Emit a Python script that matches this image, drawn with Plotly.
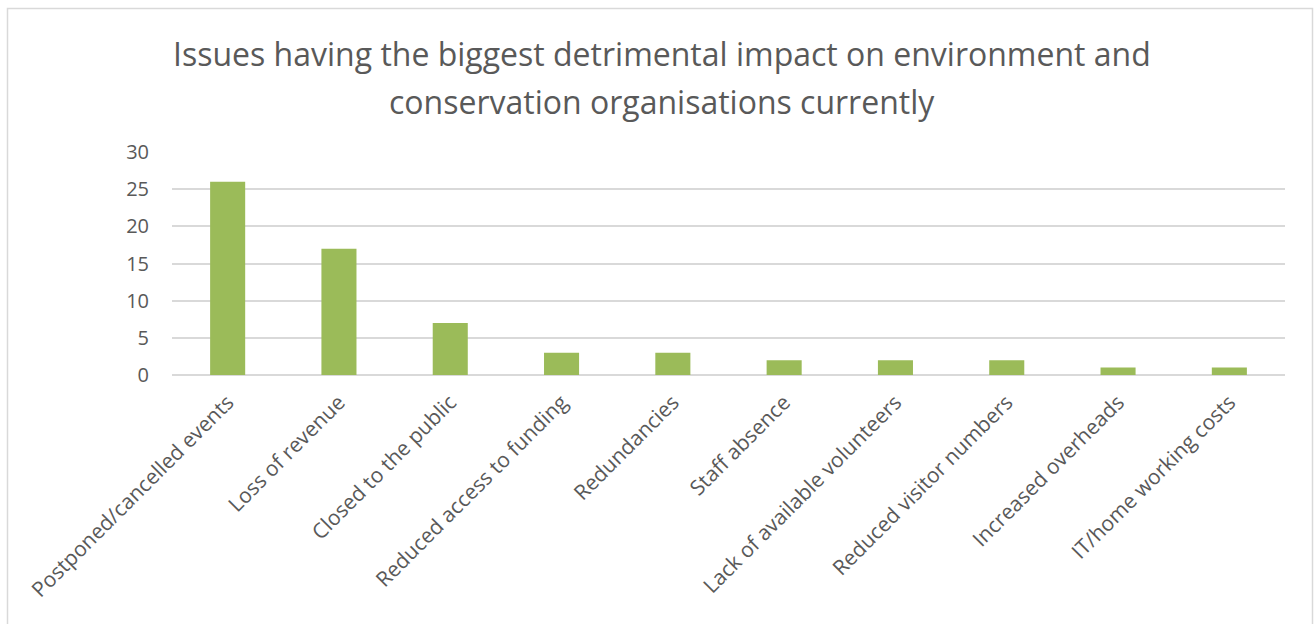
import plotly.graph_objects as go

# Survey responses: issues with the biggest detrimental impact
issues = [
    "Postponed/cancelled events",
    "Loss of revenue",
    "Closed to the public",
    "Reduced access to funding",
    "Redundancies",
    "Staff absence",
    "Lack of available volunteers",
    "Reduced visitor numbers",
    "Increased overheads",
    "IT/home working costs",
]
counts = [26, 17, 7, 3, 3, 2, 2, 2, 1, 1]
y_ticks = [0, 5, 10, 15, 20, 25, 30]
title_lines = [
    "Issues having the biggest detrimental impact on environment and",
    "conservation organisations currently",
]

TEXT_GREY = "#595959"
GRID_GREY = "#d9d9d9"
FONT = "Open Sans"

fig = go.Figure(
    go.Bar(
        x=issues,
        y=counts,
        marker=dict(color="#9bbb59", line=dict(width=0)),
        width=0.315,
    )
)

W, H = 1315, 624
L, R, T, B = 172, 30, 152, 249
pw, ph = W - L - R, H - T - B


def px_x(p):
    return (p - L) / pw


def px_y(p):
    return (H - B - p) / ph


fig.update_layout(
    width=W,
    height=H,
    margin=dict(l=L, r=R, t=T, b=B, autoexpand=False),
    paper_bgcolor="white",
    plot_bgcolor="white",
    showlegend=False,
    font=dict(family=FONT, color=TEXT_GREY),
)

fig.update_xaxes(
    tickangle=-45,
    tickfont=dict(size=21, color=TEXT_GREY, family=FONT),
    showgrid=False,
    showline=False,
    ticks="",
    ticklabelstandoff=10,
)
fig.update_yaxes(
    range=[0, 30],
    tickvals=y_ticks,
    tickfont=dict(size=20, color=TEXT_GREY, family=FONT),
    showgrid=True,
    gridcolor=GRID_GREY,
    gridwidth=1.5,
    zeroline=True,
    zerolinecolor=GRID_GREY,
    zerolinewidth=2,
    showline=False,
    ticks="",
    ticklabelstandoff=22,
)

# Chart title, two centred lines
for line, yc in zip(title_lines, [53, 101]):
    fig.add_annotation(
        text=line,
        xref="paper",
        yref="paper",
        x=px_x(661.5),
        y=px_y(yc),
        xanchor="center",
        yanchor="middle",
        showarrow=False,
        font=dict(size=32, color=TEXT_GREY, family=FONT),
    )

# Chart frame
fig.add_shape(
    type="rect",
    xref="paper",
    yref="paper",
    x0=px_x(7.5),
    x1=px_x(1312.5),
    y0=px_y(640),
    y1=px_y(8.5),
    line=dict(color=GRID_GREY, width=1.5),
    fillcolor="rgba(0,0,0,0)",
    layer="below",
)

fig.write_html("out.html")
